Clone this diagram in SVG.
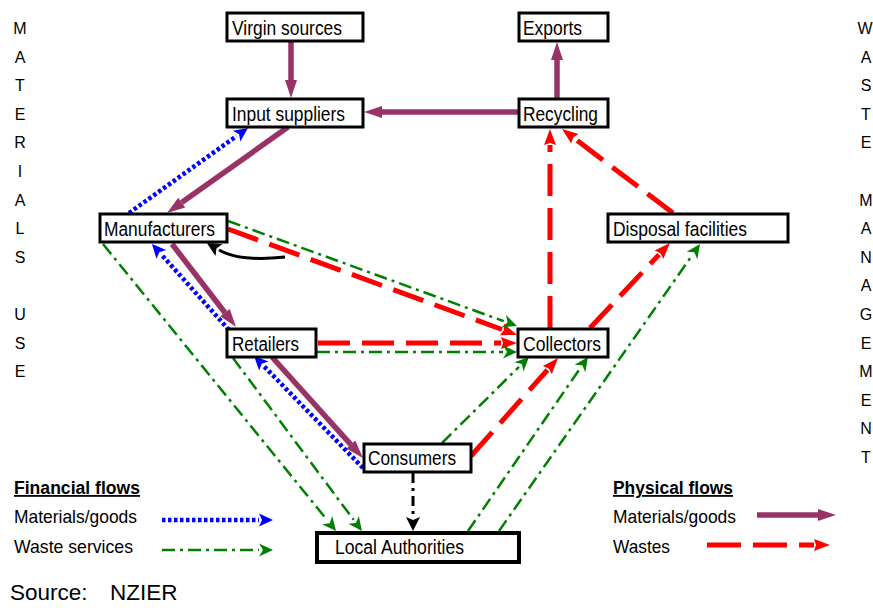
<svg xmlns="http://www.w3.org/2000/svg" width="873" height="608" viewBox="0 0 873 608">
<style>
.box{fill:#fff;stroke:#000;stroke-width:3}
.lbl{font-family:"Liberation Sans",Arial,sans-serif;font-size:19.5px;fill:#000}
.side{font-family:"Liberation Sans",Arial,sans-serif;font-size:16px;fill:#000;text-anchor:middle}
.leg{font-family:"Liberation Sans",Arial,sans-serif;font-size:18.5px;fill:#000}
.legh{font-family:"Liberation Sans",Arial,sans-serif;font-size:18px;font-weight:bold;text-decoration:underline;fill:#000}
.pur{stroke:#993366;stroke-width:5.5;fill:none;marker-end:url(#mp)}
.red{stroke:#ff0000;stroke-width:5;fill:none;stroke-dasharray:32 12;marker-end:url(#mr)}
.blu{stroke:#0000ff;stroke-width:4.5;fill:none;stroke-dasharray:3.5 2.5;marker-end:url(#mb)}
.grn{stroke:#008000;stroke-width:2.5;fill:none;stroke-dasharray:13 5 3 5;marker-end:url(#mg)}
.blk{stroke:#000;stroke-width:3;fill:none;marker-end:url(#mk)}
</style>
<defs>
<marker id="mp" markerUnits="userSpaceOnUse" markerWidth="18" markerHeight="12" refX="0" refY="6" orient="auto" overflow="visible"><path d="M0,0 L18,6 L0,12 z" fill="#993366"/></marker>
<marker id="mr" markerUnits="userSpaceOnUse" markerWidth="16" markerHeight="12" refX="0" refY="6" orient="auto" overflow="visible"><path d="M0,0 L16,6 L0,12 L2,6 z" fill="#ff0000"/></marker>
<marker id="mb" markerUnits="userSpaceOnUse" markerWidth="14" markerHeight="13" refX="0" refY="6.5" orient="auto" overflow="visible"><path d="M0,0 L14,6.5 L0,13 L3,6.5 z" fill="#0000ff"/></marker>
<marker id="mg" markerUnits="userSpaceOnUse" markerWidth="14" markerHeight="13" refX="0" refY="6.5" orient="auto" overflow="visible"><path d="M0,0 L14,6.5 L0,13 L4,6.5 z" fill="#008000"/></marker>
<marker id="mk" markerUnits="userSpaceOnUse" markerWidth="14" markerHeight="14" refX="0" refY="7" orient="auto" overflow="visible"><path d="M0,0 L14,7 L0,14 L3,7 z" fill="#000"/></marker>
</defs>

<g id="connectors">
<!-- purple physical materials -->
<line class="pur" x1="291" y1="42" x2="291" y2="80"/>
<line class="pur" x1="518" y1="112" x2="382" y2="112"/>
<line class="pur" x1="557" y1="98" x2="557" y2="60"/>
<line class="pur" x1="288" y1="127" x2="181.7" y2="202.6"/>
<line class="pur" x1="172" y1="244" x2="225" y2="312.7"/>
<line class="pur" x1="272" y1="357" x2="350.9" y2="444.6"/>
<!-- red wastes -->
<line class="red" x1="228" y1="229" x2="502" y2="329.5"/>
<line class="red" x1="318" y1="343" x2="501" y2="343"/>
<line class="red" x1="471" y1="456" x2="547.4" y2="370"/>
<line class="red" x1="550" y1="328" x2="550" y2="145"/>
<line class="red" x1="590" y1="328" x2="659" y2="254.6"/>
<line class="red" x1="673" y1="213" x2="574.8" y2="138.7"/>
<!-- blue financial materials -->
<line class="blu" x1="129" y1="213" x2="236.6" y2="136.1"/>
<line class="blu" x1="229" y1="330" x2="161.3" y2="254.4"/>
<line class="blu" x1="363" y1="468" x2="263.8" y2="366"/>
<!-- green waste services -->
<line class="grn" x1="228" y1="221" x2="503.8" y2="321.2"/>
<line class="grn" x1="317" y1="352" x2="503" y2="352"/>
<line class="grn" x1="103" y1="244" x2="327.2" y2="520.1"/>
<line class="grn" x1="233" y1="358" x2="353.6" y2="519.8"/>
<line class="grn" x1="442" y1="443" x2="519" y2="366.8"/>
<line class="grn" x1="468" y1="531" x2="580" y2="368.5"/>
<line class="grn" x1="499" y1="531" x2="692" y2="255.5"/>
<!-- black -->
<path class="blk" d="M285,257 Q240,262 219,250"/>
<line class="blk" x1="413" y1="473" x2="413" y2="517" style="stroke-dasharray:10 5 3 5"/>
</g>

<g id="virgin-sources"><rect class="box" x="227" y="13" width="136" height="28"/><text class="lbl" x="232" y="35" textLength="110" lengthAdjust="spacingAndGlyphs">Virgin sources</text></g>
<g id="exports"><rect class="box" x="519" y="13" width="89" height="28"/><text class="lbl" x="523" y="35" textLength="59" lengthAdjust="spacingAndGlyphs">Exports</text></g>
<g id="input-suppliers"><rect class="box" x="227" y="99" width="136" height="28"/><text class="lbl" x="232" y="121" textLength="113" lengthAdjust="spacingAndGlyphs">Input suppliers</text></g>
<g id="recycling"><rect class="box" x="519" y="99" width="89" height="28"/><text class="lbl" x="523" y="121" textLength="75" lengthAdjust="spacingAndGlyphs">Recycling</text></g>
<g id="manufacturers"><rect class="box" x="100" y="214" width="127" height="28"/><text class="lbl" x="104" y="236" textLength="111" lengthAdjust="spacingAndGlyphs">Manufacturers</text></g>
<g id="disposal-facilities"><rect class="box" x="608" y="214" width="180" height="28"/><text class="lbl" x="613" y="236" textLength="134" lengthAdjust="spacingAndGlyphs">Disposal facilities</text></g>
<g id="retailers"><rect class="box" x="227" y="329" width="89" height="28"/><text class="lbl" x="232" y="351" textLength="67" lengthAdjust="spacingAndGlyphs">Retailers</text></g>
<g id="collectors"><rect class="box" x="518" y="329" width="90" height="28"/><text class="lbl" x="523" y="351" textLength="78" lengthAdjust="spacingAndGlyphs">Collectors</text></g>
<g id="consumers"><rect class="box" x="364" y="444" width="107" height="28"/><text class="lbl" x="368" y="465" textLength="88" lengthAdjust="spacingAndGlyphs">Consumers</text></g>
<g id="local-authorities"><rect class="box" x="317" y="533" width="202" height="29" style="stroke-width:4"/><text class="lbl" x="335" y="554" textLength="129" lengthAdjust="spacingAndGlyphs">Local Authorities</text></g>

<g id="materials-use">
<text class="side" x="20" y="34">M</text>
<text class="side" x="20" y="62.6">A</text>
<text class="side" x="20" y="91.2">T</text>
<text class="side" x="20" y="119.8">E</text>
<text class="side" x="20" y="148.4">R</text>
<text class="side" x="20" y="177">I</text>
<text class="side" x="20" y="205.6">A</text>
<text class="side" x="20" y="234.2">L</text>
<text class="side" x="20" y="262.8">S</text>
<text class="side" x="20" y="320">U</text>
<text class="side" x="20" y="348.6">S</text>
<text class="side" x="20" y="377.2">E</text>
</g>
<g id="waste-management">
<text class="side" x="865" y="34">W</text>
<text class="side" x="866" y="62.6">A</text>
<text class="side" x="866" y="91.2">S</text>
<text class="side" x="866" y="119.8">T</text>
<text class="side" x="866" y="148.4">E</text>
<text class="side" x="866" y="205.6">M</text>
<text class="side" x="866" y="234.2">A</text>
<text class="side" x="866" y="262.8">N</text>
<text class="side" x="866" y="291.4">A</text>
<text class="side" x="866" y="320">G</text>
<text class="side" x="866" y="348.6">E</text>
<text class="side" x="866" y="377.2">M</text>
<text class="side" x="866" y="405.8">E</text>
<text class="side" x="866" y="434.4">N</text>
<text class="side" x="866" y="463">T</text>
</g>

<g id="legend-financial">
<text class="legh" x="14" y="494" textLength="126" lengthAdjust="spacingAndGlyphs">Financial flows</text>
<text class="leg" x="14" y="523" textLength="123" lengthAdjust="spacingAndGlyphs">Materials/goods</text>
<text class="leg" x="14" y="553" textLength="119" lengthAdjust="spacingAndGlyphs">Waste services</text>
<line class="blu" x1="162" y1="520" x2="259" y2="520"/>
<line class="grn" x1="162" y1="550" x2="259" y2="550"/>
</g>
<g id="legend-physical">
<text class="legh" x="613" y="494" textLength="120" lengthAdjust="spacingAndGlyphs">Physical flows</text>
<text class="leg" x="613" y="523" textLength="123" lengthAdjust="spacingAndGlyphs">Materials/goods</text>
<text class="leg" x="613" y="553" textLength="57" lengthAdjust="spacingAndGlyphs">Wastes</text>
<line class="pur" x1="757" y1="515" x2="818" y2="515"/>
<line class="red" x1="707" y1="545" x2="814" y2="545" style="stroke-dasharray:34 12"/>
</g>
<g id="source">
<text x="10" y="600" style="font-family:'Liberation Sans',Arial,sans-serif;font-size:22.5px">Source:</text>
<text x="110" y="600" style="font-family:'Liberation Sans',Arial,sans-serif;font-size:22.5px">NZIER</text>
</g>
</svg>
